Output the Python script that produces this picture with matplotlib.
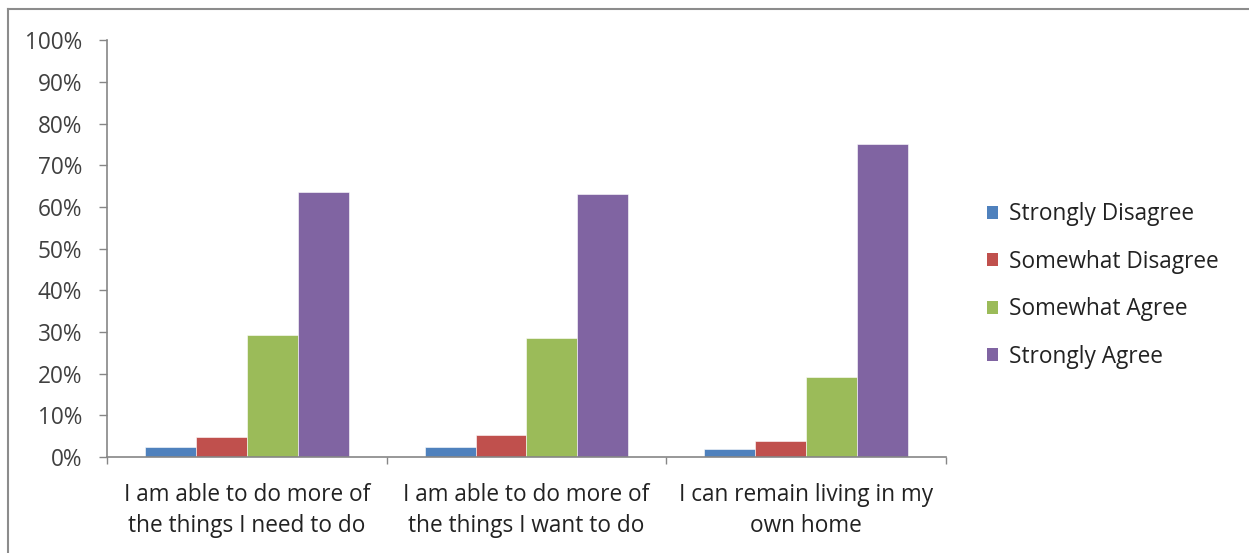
import numpy as np
import matplotlib.pyplot as plt
from matplotlib.lines import Line2D
from matplotlib.patches import Patch

plt.rcParams['font.family'] = ['Open Sans', 'DejaVu Sans']

categories = ["I am able to do more of\nthe things I need to do",
              "I am able to do more of\nthe things I want to do",
              "I can remain living in my\nown home"]
series = ["Strongly Disagree", "Somewhat Disagree", "Somewhat Agree", "Strongly Agree"]
strongly_disagree = [2.5, 2.3, 2.0]
somewhat_disagree = [4.8, 5.2, 3.9]
somewhat_agree = [29.2, 28.6, 19.2]
strongly_agree = [63.6, 63.1, 75.2]
yticks = [0, 10, 20, 30, 40, 50, 60, 70, 80, 90, 100]

colours = ["#4F81BD", "#C0504D", "#9BBB59", "#8064A2"]
axis_grey = "#868686"
text_col = "#404040"
fs = 16.3

values = [strongly_disagree, somewhat_disagree, somewhat_agree, strongly_agree]

fig = plt.figure(figsize=(12.49, 5.53), dpi=100)
ax = fig.add_axes([107 / 1249, 1 - 457 / 553, (946 - 107) / 1249, (457 - 40.3) / 553])

# excel-style clustered bars, gap width 150%
x = np.arange(len(categories))
w = 1 / (len(series) + 1.5)
for i, (name, vals) in enumerate(zip(series, values)):
    ax.bar(x + (i - 1.5) * w, vals, width=w, color=colours[i], label=name,
           edgecolor="white", linewidth=0.4, zorder=2)

ax.set_xlim(-0.5, len(categories) - 0.5)
ax.set_ylim(0, 100)
ax.set_yticks(yticks)
ax.set_yticklabels([f"{t}%" for t in yticks])

ax.set_xticks(x)
ax.set_xticklabels(categories, fontsize=fs, color="#222222", linespacing=1.38)
ax.set_xticks(np.arange(len(categories) + 1) - 0.5, minor=True)
ax.tick_params(axis="x", which="major", length=0, pad=19)
ax.tick_params(axis="x", which="minor", length=5, width=1, color=axis_grey, direction="out")
ax.tick_params(axis="y", length=6, width=1, color=axis_grey, pad=12,
               labelsize=fs, labelcolor=text_col)

for s in ["top", "right"]:
    ax.spines[s].set_visible(False)
for s in ["left", "bottom"]:
    ax.spines[s].set_color(axis_grey)
    ax.spines[s].set_linewidth(1.2)

handles = [Patch(facecolor=c, edgecolor="none") for c in colours]
fig.legend(handles, series, loc="center left", bbox_to_anchor=(987 / 1249, 1 - 285.5 / 553),
           frameon=False, fontsize=fs, labelspacing=1.04, handlelength=0.5,
           handleheight=0.5, handletextpad=0.48, borderpad=0, borderaxespad=0,
           labelcolor="#222222")

# chart area border (left and top edge)
fig.add_artist(Line2D([7.5 / 1249, 7.5 / 1249], [0, 1 - 9 / 553], transform=fig.transFigure,
                      color="#8c8c8c", linewidth=1.5))
fig.add_artist(Line2D([7.5 / 1249, 1], [1 - 9 / 553, 1 - 9 / 553], transform=fig.transFigure,
                      color="#8c8c8c", linewidth=1.5))

fig.savefig("out.png", dpi=100)
